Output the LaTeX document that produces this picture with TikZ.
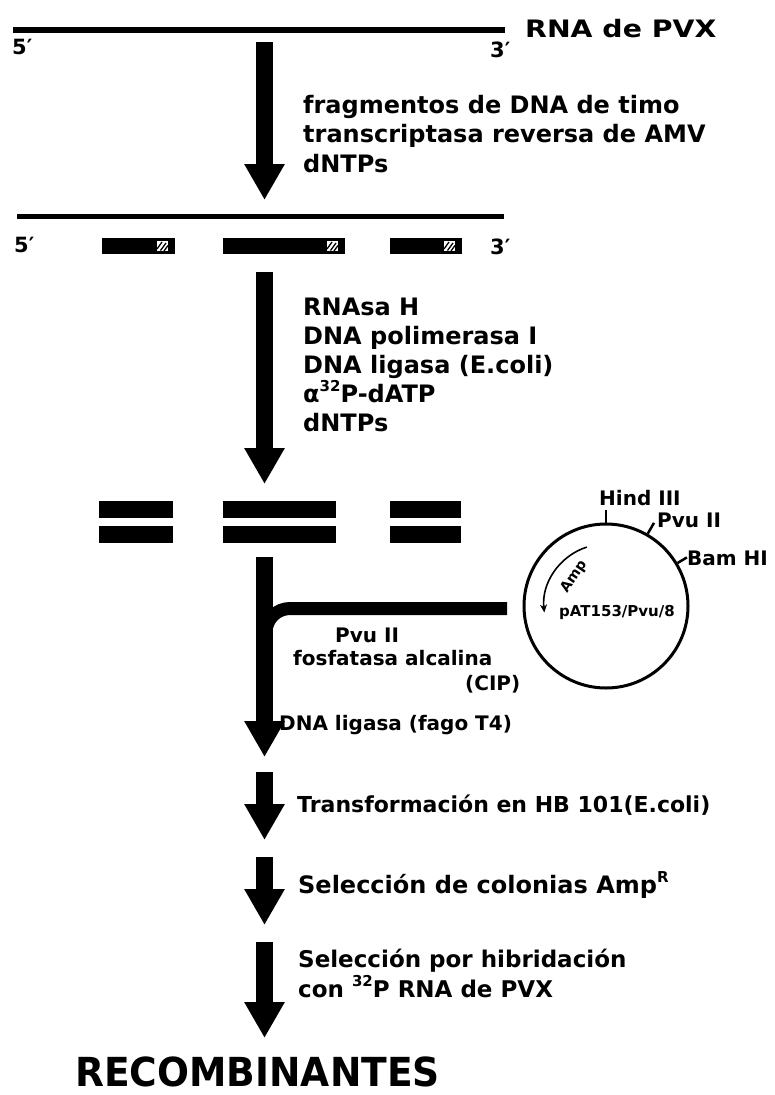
\documentclass[tikz,border=0pt]{standalone}
\usepackage{fontspec}
\setmainfont{DejaVu Sans}
\usepackage{graphicx}
\usetikzlibrary{arrows.meta,calc}
\newcommand\myexp[1]{\raisebox{0.45em}{\fontsize{15}{15}\selectfont #1}}
\newcommand\hatchsq[2]{\begin{scope}[shift={(#1,#2)}]
  \fill[white] (0,0) rectangle (11,10);
  \draw[black,line width=1.3pt] (0,8)--(5,1) (3.5,9.5)--(9,2) (7,10)--(11,4.5);
\end{scope}}
\begin{document}
\begin{tikzpicture}[x=1pt,y=-1pt,
  lbl/.style={anchor=base west, inner sep=0pt, font=\bfseries\fontsize{24}{28}\selectfont},
  sml/.style={anchor=base west, inner sep=0pt, font=\bfseries\fontsize{20}{24}\selectfont},
  end/.style={anchor=base west, inner sep=0pt, font=\bfseries\fontsize{21}{24}\selectfont},
  bigarrow/.style={line width=17pt, -{Triangle[width=38pt,length=36pt]}},
  strand/.style={fill=black},
]
\useasboundingbox (0,0) rectangle (775,1095);

% --- RNA strand
\coordinate (r1a) at (13,30);
\coordinate (r1b) at (505,30);
\draw[line width=6pt] (r1a) -- (r1b);
\node[lbl] (rnapvx) at (525,37) {\scalebox{1.18}[1]{RNA de PVX}};
\node[end] (r1five) at (12,54) {5′};
\node[end] (r1three) at (490,57) {3′};

% --- arrow 1
\coordinate (a1s) at (264.5,42);
\coordinate (a1e) at (264.5,200);
\draw[bigarrow] (a1s) -- (a1e);
\node[lbl] (t1a) at (303,113) {fragmentos de DNA de timo};
\node[lbl] (t1b) at (303,142) {transcriptasa reversa de AMV};
\node[lbl] (t1c) at (303,172) {dNTPs};

% --- RNA + cDNA fragments
\coordinate (r2a) at (17,216);
\coordinate (r2b) at (504,216);
\draw[line width=5pt] (r2a) -- (r2b);
\node[end] (r2five) at (14,252) {5′};
\node[end] (r2three) at (490,254) {3′};
\fill[strand] (102,238) rectangle (175,254);
\fill[strand] (223,238) rectangle (345,254);
\fill[strand] (390,238) rectangle (462,254);
\hatchsq{157}{241}
\hatchsq{327}{241}
\hatchsq{444}{241}

% --- arrow 2
\coordinate (a2s) at (264.5,272);
\coordinate (a2e) at (264.5,484);
\draw[bigarrow] (a2s) -- (a2e);
\node[lbl] (t2a) at (303,315) {RNAsa H};
\node[lbl] (t2b) at (303,344) {DNA polimerasa I};
\node[lbl] (t2c) at (303,373) {DNA ligasa (E.coli)};
\node[lbl] (t2d) at (303,402) {α\myexp{32}P-dATP};
\node[lbl] (t2e) at (303,431) {dNTPs};

% --- double-stranded cDNA
\fill[strand] (99,501) rectangle (173,518);
\fill[strand] (99,526) rectangle (173,543);
\fill[strand] (223,501) rectangle (336,518);
\fill[strand] (223,526) rectangle (336,543);
\fill[strand] (390,501) rectangle (461,518);
\fill[strand] (390,526) rectangle (461,543);

% --- plasmid
\node[draw, circle, line width=3pt, minimum size=164pt, inner sep=0pt] (plasmid) at (606,606) {};
\draw[line width=2.5pt] (plasmid.90) -- ($(plasmid.center)!1.15!(plasmid.90)$);
\draw[line width=2.5pt] (plasmid.60) -- ($(plasmid.center)!1.15!(plasmid.60)$);
\draw[line width=2.5pt] (plasmid.31) -- ($(plasmid.center)!1.13!(plasmid.31)$);
\node[sml] (hind) at (599,505) {Hind III};
\node[sml] (pvu) at (657,527) {Pvu II};
\node[sml] (bam) at (687,565) {Bam HI};
\draw[line width=1.6pt, -{Stealth[length=8pt,width=7pt]}]
  ($(plasmid.center)+(108:62pt)$) arc[start angle=108, end angle=186, radius=62pt];
\node[rotate=56, inner sep=0pt, font=\bfseries\fontsize{14}{14}\selectfont] (amp) at (574,577) {Amp};
\node[inner sep=0pt, font=\bfseries\fontsize{15}{15}\selectfont] (pat) at (617,612) {pAT153/Pvu/8};

% --- branch from plasmid into arrow 3
\coordinate (bstart) at (507,608.5);
\coordinate (bjoin) at (266,665);
\draw[line width=13pt, rounded corners=24pt] (bstart) -| (bjoin);

% --- arrow 3
\coordinate (a3s) at (264.5,557);
\coordinate (a3e) at (264.5,757);
\draw[bigarrow] (a3s) -- (a3e);
\node[sml] (t3a) at (335,642) {Pvu II};
\node[sml] (t3b) at (293,665) {fosfatasa alcalina};
\node[sml] (t3c) at (465,690) {(CIP)};
\node[sml] (t3d) at (279,730) {DNA ligasa (fago T4)};

% --- arrow 4
\coordinate (a4s) at (264.5,772);
\coordinate (a4e) at (264.5,840);
\draw[bigarrow] (a4s) -- (a4e);
\node[lbl, font=\bfseries\fontsize{22}{26}\selectfont] (t4) at (297,812) {Transformación en HB 101(E.coli)};

% --- arrow 5
\coordinate (a5s) at (264.5,857);
\coordinate (a5e) at (264.5,925);
\draw[bigarrow] (a5s) -- (a5e);
\node[lbl] (t5) at (298,893) {Selección de colonias Amp\myexp{R}};

% --- arrow 6
\coordinate (a6s) at (264.5,942);
\coordinate (a6e) at (264.5,1038);
\draw[bigarrow] (a6s) -- (a6e);
\node[lbl, font=\bfseries\fontsize{23}{26}\selectfont] (t6a) at (298,967) {Selección por hibridación};
\node[lbl, font=\bfseries\fontsize{23}{26}\selectfont] (t6b) at (298,997) {con \myexp{32}P RNA de PVX};

\node[anchor=base west, inner sep=0pt, font=\bfseries\fontsize{40}{42}\selectfont] (recomb) at (75,1086) {\scalebox{0.94}[1]{RECOMBINANTES}};
\end{tikzpicture}
\end{document}
